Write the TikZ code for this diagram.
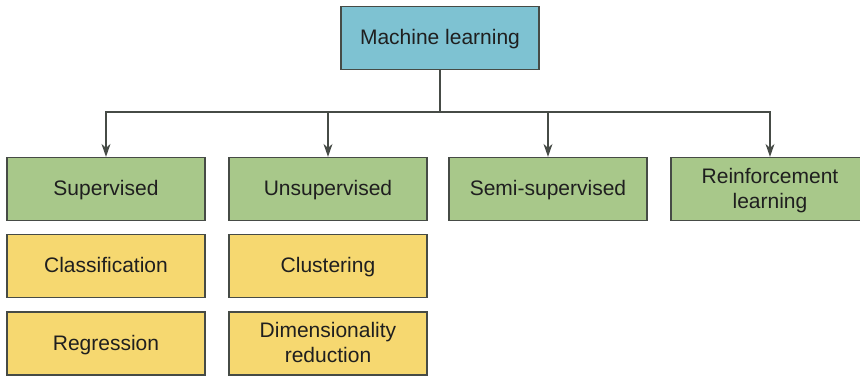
\documentclass[tikz,border=0pt]{standalone}
\usepackage{fontspec}
\setmainfont{Liberation Sans}
\usetikzlibrary{arrows.meta}
\definecolor{mlblue}{RGB}{126,194,210}
\definecolor{mlgreen}{RGB}{168,200,138}
\definecolor{mlyellow}{RGB}{246,216,112}
\definecolor{mledge}{RGB}{70,75,70}
\newcommand{\mlline}[1]{#1\rule[-6pt]{0pt}{25pt}}
\begin{document}
\begin{tikzpicture}[x=1pt,y=-1pt,
  box/.style={draw=mledge,line width=1.3pt,minimum width=198pt,minimum height=63pt,
    align=center,inner sep=0pt,font=\fontsize{21}{25}\selectfont,text=black!88},
  top/.style={box,fill=mlblue},
  cat/.style={box,fill=mlgreen},
  sub/.style={box,fill=mlyellow},
  conn/.style={draw=mledge,line width=1.3pt},
  arr/.style={conn,-{Stealth[length=13pt,width=9pt]}}]
\useasboundingbox (0,0) rectangle (860,376);
\node[top] (ml) at (440,38) {\mlline{Machine learning}};
\node[cat] (sup) at (106,189) {\mlline{Supervised}};
\node[cat] (uns) at (328,189) {\mlline{Unsupervised}};
\node[cat] (semi) at (548,189) {\mlline{Semi-supervised}};
\node[cat] (rl) at (770,189) {\mlline{Reinforcement}\\\mlline{learning}};
\node[sub] (cls) at (106,266) {\mlline{Classification}};
\node[sub] (reg) at (106,343.5) {\mlline{Regression}};
\node[sub] (clu) at (328,266) {\mlline{Clustering}};
\node[sub] (dim) at (328,343.5) {\mlline{Dimensionality}\\\mlline{reduction}};
\coordinate (j) at (440,112);
\draw[conn] (ml.south) -- (j);
\draw[arr] (j) -| (sup.north);
\draw[arr] (j) -| (uns.north);
\draw[arr] (j) -| (semi.north);
\draw[arr] (j) -| (rl.north);
\end{tikzpicture}
\end{document}
